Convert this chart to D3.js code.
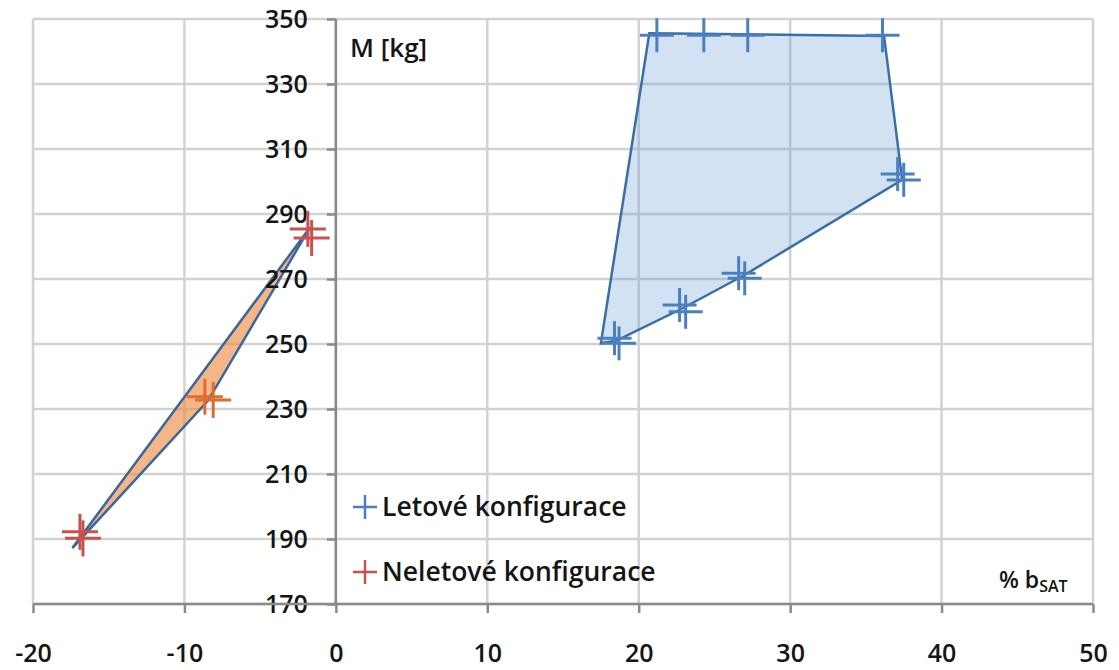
<!DOCTYPE html>
<html>
<head>
<meta charset="utf-8">
<script src="https://cdn.jsdelivr.net/npm/d3@7"></script>
<style>
  body { margin: 0; background: #fff; }
  svg text { font-family: "Open Sans", sans-serif; font-weight: 600; fill: #151515; }
</style>
</head>
<body>
<svg id="chart" width="1119" height="670"></svg>
<script>
// tick values
const xTicks = [-20, -10, 0, 10, 20, 30, 40, 50];
const yTicks = [170, 190, 210, 230, 250, 270, 290, 310, 330, 350];

// Letové konfigurace (flight configurations)
const letoveX = [21.2, 24.3, 27.2, 36.1, 37.1, 37.5, 26.6, 27.0, 22.7, 23.1, 18.4, 18.7];
const letoveY = [345, 345, 345, 345, 302.3, 300.5, 271.8, 270.2, 262.0, 259.9, 251.8, 250.2];
// envelope of letové
const letoveAreaX = [17.5, 20.7, 36.2, 37.4, 26.9, 22.9, 18.5];
const letoveAreaY = [250.2, 345.6, 344.8, 300.5, 271.0, 261.0, 251.0];

// Neletové konfigurace (non-flight configurations)
const neletoveX = [-1.85, -1.6, -8.65, -8.1, -16.9, -16.7];
const neletoveY = [285.4, 282.6, 233.8, 232.8, 192.2, 190.2];
const neletoveColor = ["#c9524c", "#c9524c", "#e06a30", "#e06a30", "#c9524c", "#c9524c"];
const neletoveAreaX = [-17.4, -8.45, -1.7];
const neletoveAreaY = [187.2, 232.5, 285.9];

const svg = d3.select("#chart");
const plotLeft = 33, plotRight = 1093, plotTop = 19, plotBottom = 604;

const x = d3.scaleLinear().domain([-20, 50]).range([plotLeft, plotRight]);
const y = d3.scaleLinear().domain([170, 350]).range([plotBottom, plotTop]);

// grid
svg.append("g").selectAll("line").data(xTicks).join("line")
    .attr("x1", d => x(d)).attr("x2", d => x(d))
    .attr("y1", plotTop).attr("y2", plotBottom)
    .attr("stroke", "#d2d2d2").attr("stroke-width", 2.5);
svg.append("g").selectAll("line").data(yTicks).join("line")
    .attr("x1", plotLeft).attr("x2", plotRight)
    .attr("y1", d => y(d)).attr("y2", d => y(d))
    .attr("stroke", "#d2d2d2").attr("stroke-width", 2.5);

// areas
const poly = (xs, ys) => xs.map((v, i) => [x(v), y(ys[i])]);
svg.append("polygon")
    .attr("points", poly(letoveAreaX, letoveAreaY).join(" "))
    .attr("fill", "rgba(105,158,215,0.3)")
    .attr("stroke", "#3a6ea5").attr("stroke-width", 2.5);
svg.append("polygon")
    .attr("points", poly(neletoveAreaX, neletoveAreaY).join(" "))
    .attr("fill", "rgba(238,137,60,0.62)")
    .attr("stroke", "#3a66a0").attr("stroke-width", 2.5);

// axes
const yAxis = svg.append("g")
    .attr("transform", `translate(${x(0)},0)`)
    .call(d3.axisLeft(y).tickValues(yTicks).tickSize(9).tickPadding(19).tickFormat(d => String(d)));
const xAxis = svg.append("g")
    .attr("transform", `translate(0,${plotBottom})`)
    .call(d3.axisBottom(x).tickValues(xTicks).tickSize(9).tickPadding(31).tickFormat(d => String(d)));
[yAxis, xAxis].forEach(g => {
    g.select(".domain").attr("stroke", "#8a8a8a").attr("stroke-width", 2.5);
    g.selectAll(".tick line").attr("stroke", "#8a8a8a").attr("stroke-width", 2.5);
    g.selectAll(".tick text").attr("font-size", 25).attr("font-family", null).attr("fill", null);
});
xAxis.select(".domain").attr("d", `M${plotLeft},0H${plotRight}`);
yAxis.select(".domain").attr("d", `M0,${plotTop}V${plotBottom}`);

// crosses
function cross(g, cx, cy, size, color, sw) {
    g.append("line").attr("x1", cx - size).attr("x2", cx + size).attr("y1", cy).attr("y2", cy)
        .attr("stroke", color).attr("stroke-width", sw);
    g.append("line").attr("x1", cx).attr("x2", cx).attr("y1", cy - size).attr("y2", cy + size)
        .attr("stroke", color).attr("stroke-width", sw);
}
const marks = svg.append("g");
letoveX.forEach((v, i) => cross(marks, x(v), y(letoveY[i]), 17, "#4a7fc0", 3));
neletoveX.forEach((v, i) => cross(marks, x(v), y(neletoveY[i]), 18, neletoveColor[i], 3));

// axis titles
svg.append("text").attr("x", 350).attr("y", 57).attr("font-size", 26).text("M [kg]");
const bt = svg.append("text").attr("x", 999).attr("y", 588).attr("font-size", 23);
bt.append("tspan").text("% b");
bt.append("tspan").attr("font-size", 16).attr("dy", 4).text("SAT");

// legend
const legend = [["Letové konfigurace", "#4a7fc0"], ["Neletové konfigurace", "#c9524c"]];
legend.forEach(([label, color], i) => {
    const cy = 507 + i * 65;
    cross(svg, 365, cy, 12, color, 2.5);
    svg.append("text").attr("x", 382).attr("y", cy + 9).attr("font-size", 26.5).text(label);
});
</script>
</body>
</html>
